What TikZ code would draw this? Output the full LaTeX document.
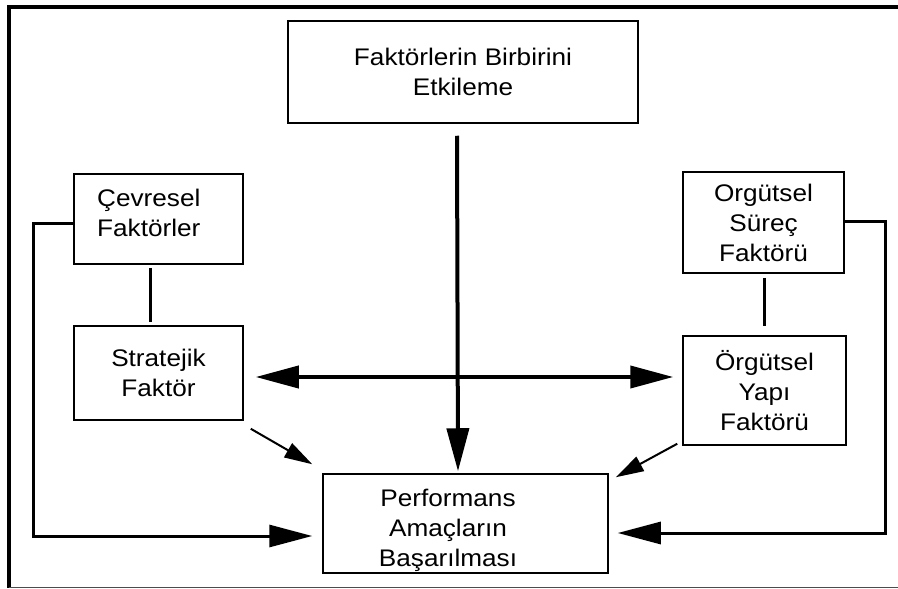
\documentclass[tikz,border=0pt]{standalone}
\usepackage{fontspec}
\setmainfont{Liberation Sans}[FakeStretch=1.09]
\usetikzlibrary{arrows.meta,calc}
\begin{document}
\begin{tikzpicture}[x=1pt,y=-1pt,
  txt/.style={font=\fontsize{24}{30}\selectfont, align=center, inner sep=0pt},
  box/.style={draw, line width=1.5pt, txt},
  conn/.style={line width=3pt},
  bigtip/.style={-{Triangle[length=43pt,width=22pt]}},
  thick arrow/.style={line width=4pt},
  diag/.style={line width=2pt, -{Triangle[length=28pt,width=16pt]}}]
\useasboundingbox (0,0) rectangle (898,589);
% outer frame
\draw[line width=4pt] (898,7) -- (9,7) -- (9,588);
\draw[line width=1pt, black!70] (9,587) -- (898,587);
% boxes
\node[box, minimum width=350pt, minimum height=102pt] (top) at (463,72) {Faktörlerin Birbirini\\Etkileme};
\node[box, minimum width=169pt, minimum height=90pt] (cev) at (158.5,219) {};
\node[txt, anchor=west, align=left] (cevt) at (97,212.5) {Çevresel\\Faktörler};
\node[box, minimum width=169pt, minimum height=94pt] (str) at (158.5,373) {Stratejik\\Faktör};
\node[box, minimum width=285pt, minimum height=99pt] (perf) at (465.5,523.5) {};
\node[txt] (perft) at (448,530) {Performans\\Amaçların\\Başarılması};
\node[box, minimum width=161pt, minimum height=101pt] (sur) at (763.5,222.5) {Orgütsel\\Süreç\\Faktörü};
\node[box, minimum width=163pt, minimum height=109pt] (yap) at (764.5,390.5) {Örgütsel\\Yapı\\Faktörü};
% connectors
\draw[thick arrow, bigtip] ($(top.south)+(-6,12)$) -- ($(perf.north)+(-7.5,-2)$);
\draw[thick arrow, {Triangle[length=43pt,width=22pt]}-{Triangle[length=43pt,width=22pt]}]
  ($(str.east)+(12,4)$) -- ($(yap.west)+(-9,-13.5)$);
\draw[conn] ($(cev.south)+(-8.5,3)$) -- ($(str.north)+(-8.5,-3)$);
\draw[conn] ($(sur.south)+(0.5,4)$) -- ($(yap.north)+(-0.5,-9)$);
\draw[conn, bigtip] ($(cev.west)+(0,4)$) -- ++(-40,0) |- ($(perf.west)+(-10,12.5)$);
\draw[conn, bigtip] ($(sur.east)+(0,-1.5)$) -- ++(41,0) |- ($(perf.east)+(9,9.5)$);
\draw[diag] ($(str.south east)+(7,8)$) -- ($(perf.north west)+(-10,-9)$);
\draw[diag] ($(yap.south west)+(-5,-2)$) -- ($(perf.north east)+(7,4)$);
\end{tikzpicture}
\end{document}
